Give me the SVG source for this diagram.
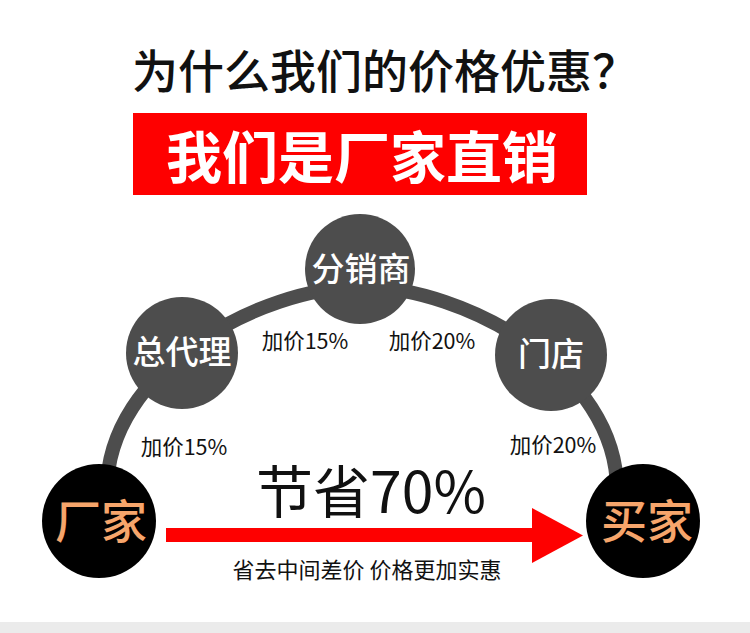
<svg xmlns="http://www.w3.org/2000/svg" width="750" height="633" viewBox="0 0 750 633">
<style>
text{font-family:"Noto Sans CJK SC","Noto Sans",sans-serif;text-anchor:middle}
.mid{fill:#4d4d4d}
.end{fill:#000}
.wt{fill:#fff;font-size:33px;font-weight:500}
.or{fill:#f6a56b;font-size:46px;font-weight:500}
.lbl{fill:#111;font-size:21.5px}
</style>
<rect width="750" height="633" fill="#fff"/>
<rect x="0" y="622" width="750" height="11" fill="#ebebeb"/>
<text x="385" y="88" font-size="46" font-weight="500" fill="#111">为什么我们的价格优惠？</text>
<rect x="133" y="113" width="454" height="82" fill="#fe0000"/>
<text x="362" y="178" font-size="56" font-weight="bold" fill="#fff">我们是厂家直销</text>
<g id="connectors">
<path d="M107 490 C107 370 260 287 362 287 C464 287 617 370 617 490" fill="none" stroke="#4d4d4d" stroke-width="14"/>
<rect x="166" y="528" width="370" height="14" fill="#fe0000"/>
<polygon points="532,508 583,535.5 532,563" fill="#fe0000"/>
</g>
<g id="n-factory"><circle class="end" cx="99" cy="521" r="57"/><text class="or" x="101" y="538">厂家</text></g>
<g id="n-agent"><circle class="mid" cx="182" cy="353" r="56"/><text class="wt" x="182" y="364">总代理</text></g>
<g id="n-dist"><circle class="mid" cx="360" cy="269" r="55"/><text class="wt" x="361" y="281">分销商</text></g>
<g id="n-store"><circle class="mid" cx="551" cy="355" r="56"/><text class="wt" x="551" y="366">门店</text></g>
<g id="n-buyer"><circle class="end" cx="643" cy="521" r="57"/><text class="or" x="647" y="538">买家</text></g>
<g id="labels">
<text class="lbl" x="305" y="349">加价15%</text>
<text class="lbl" x="432" y="349">加价20%</text>
<text class="lbl" x="184" y="455">加价15%</text>
<text class="lbl" x="553" y="453">加价20%</text>
<text x="371" y="513" font-size="57" fill="#111">节省70%</text>
<text x="367" y="578" font-size="22" fill="#111">省去中间差价 价格更加实惠</text>
</g>
</svg>
